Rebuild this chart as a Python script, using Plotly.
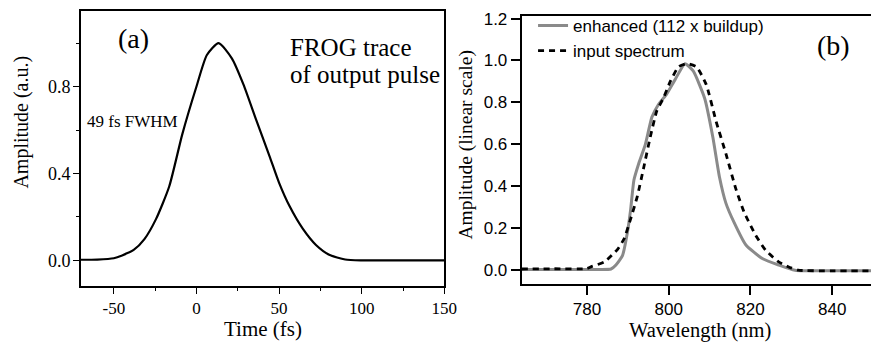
import plotly.graph_objects as go

# Panel (a): FROG trace of output pulse
time_fs = [-70, -60, -50, -45, -38, -31.5, -24.5, -16.5, -8.6, 0, 6.3, 13.4, 21.4, 28.4,
           36.3, 44.3, 50, 56.3, 64.3, 72.3, 80.3, 90, 100, 125, 150]
amp_a = [0.003, 0.004, 0.01, 0.023, 0.048, 0.098, 0.19, 0.34, 0.58, 0.80, 0.945, 1.0, 0.93, 0.81,
         0.643, 0.478, 0.357, 0.25, 0.146, 0.071, 0.026, 0.004, 0.0, 0.0, 0.0]

# Panel (b): spectra
wl_enh = [764, 775, 782, 785.9, 787.1, 788.7, 789.9, 790.7, 791.5, 792.7, 794.3, 795.9, 797.5,
          799.5, 801.6, 804.0, 806.0, 808.8, 810.8, 812.4, 814.0, 816.0, 818.9, 822.9,
          826.9, 830.9, 840, 850]
amp_enh = [0.004, 0.004, 0.004, 0.006, 0.025, 0.07, 0.18, 0.29, 0.43, 0.51, 0.60, 0.73, 0.79,
           0.84, 0.91, 0.985, 0.95, 0.82, 0.635, 0.447, 0.32, 0.228, 0.12, 0.056,
           0.025, 0.0, -0.003, -0.003]

wl_in = [764, 772, 780, 781.1, 784.3, 787.5, 789.1, 790.7, 792.3, 793.9, 795.5, 797.1, 798.7,
         800.4, 802.4, 804.4, 806.8, 809.2, 811.6, 814.0, 816.5, 818.5, 821.3, 823.7,
         826.9, 830.1, 831.7, 840, 850]
amp_in = [0.006, 0.007, 0.008, 0.017, 0.04, 0.10, 0.15, 0.245, 0.35, 0.49, 0.635, 0.76, 0.82,
          0.90, 0.97, 0.985, 0.97, 0.885, 0.71, 0.556, 0.384, 0.275, 0.166, 0.096,
          0.04, 0.01, 0.0, -0.003, -0.003]

a_xticks = [-50, 0, 50, 100, 150]
a_xlabels = ["-50", "0", "50", "100", "150"]
a_yticks = [0.0, 0.4, 0.8]
a_ylabels = ["0.0", "0.4", "0.8"]
b_xticks = [780, 800, 820, 840]
b_yticks = [0.0, 0.2, 0.4, 0.6, 0.8, 1.0, 1.2]
b_ylabels = ["0.0", "0.2", "0.4", "0.6", "0.8", "1.0", "1.2"]

W, H = 884, 345
serif = "Liberation Serif"
sans = "Liberation Sans"

fig = go.Figure()
fig.add_trace(go.Scatter(x=time_fs, y=amp_a, mode="lines",
                         line=dict(color="black", width=2.2, shape="spline", smoothing=0.6),
                         showlegend=False, xaxis="x", yaxis="y"))
fig.add_trace(go.Scatter(x=wl_enh, y=amp_enh, mode="lines", name="enhanced (112 x buildup)",
                         line=dict(color="#8a8a8a", width=3, shape="spline", smoothing=0.5),
                         xaxis="x2", yaxis="y2"))
fig.add_trace(go.Scatter(x=wl_in, y=amp_in, mode="lines", name="input spectrum",
                         line=dict(color="black", width=2.8, dash="6px,5px", shape="spline", smoothing=0.5),
                         xaxis="x2", yaxis="y2"))

def px(x):
    return x / W

def py(y):
    return 1 - y / H

fig.update_layout(
    width=W, height=H, margin=dict(l=0, r=0, t=0, b=0),
    paper_bgcolor="white", plot_bgcolor="white",
    xaxis=dict(domain=[px(82), px(451)], range=[-70, 150], tickvals=a_xticks, ticktext=a_xlabels,
               ticks="outside", ticklen=6, tickwidth=1.3, tickcolor="black",
               minor=dict(ticks="outside", ticklen=3, dtick=25, tick0=0, tickcolor="black", tickwidth=1.2),
               showline=True, linecolor="black", linewidth=1.6, mirror=True,
               showgrid=False, zeroline=False,
               tickfont=dict(family=serif, size=17, color="black"), anchor="y"),
    yaxis=dict(domain=[py(285), py(5)], range=[-0.118, 1.148], tickvals=a_yticks, ticktext=a_ylabels,
               ticks="outside", ticklen=6, tickwidth=1.3, tickcolor="black",
               minor=dict(ticks="outside", ticklen=3, dtick=0.2, tick0=0, tickcolor="black", tickwidth=1.2),
               showline=True, linecolor="black", linewidth=1.6, mirror=True,
               showgrid=False, zeroline=False, ticklabelstandoff=-1,
               tickfont=dict(family=serif, size=18, color="black"), anchor="x"),
    xaxis2=dict(domain=[px(529.3), 1.0], range=[764, 849.5], tickvals=b_xticks,
                ticks="outside", ticklen=9, tickwidth=2, tickcolor="black",
                showline=True, linecolor="black", linewidth=1.6, mirror=True,
                showgrid=False, zeroline=False,
                tickfont=dict(family=sans, size=17, color="black"), anchor="y2"),
    yaxis2=dict(domain=[py(283), py(10)], range=[-0.066, 1.213], tickvals=b_yticks, ticktext=b_ylabels,
                ticks="outside", ticklen=9, tickwidth=2, tickcolor="black",
                showline=True, linecolor="black", linewidth=1.6, mirror=False,
                showgrid=False, zeroline=False,
                tickfont=dict(family=sans, size=17, color="black"), anchor="x2"),
    legend=dict(x=px(541), y=py(2), xanchor="left", yanchor="top",
                bgcolor="rgba(0,0,0,0)", font=dict(family=sans, size=17, color="black"),
                tracegroupgap=0, itemwidth=30),
    showlegend=True,
)

ann = [
    dict(text="(a)", x=px(135), y=py(33), font=dict(family=serif, size=28)),
    dict(text="FROG trace", x=px(292), y=py(42), xanchor="left", font=dict(family=serif, size=25)),
    dict(text="of output pulse", x=px(292), y=py(70), xanchor="left", font=dict(family=serif, size=25)),
    dict(text="49 fs FWHM", x=px(86), y=py(118), xanchor="left", font=dict(family=serif, size=17)),
    dict(text="Amplitude (a.u.)", x=px(22), y=py(118), textangle=-90, font=dict(family=serif, size=20)),
    dict(text="Time (fs)", x=px(267), y=py(329), font=dict(family=serif, size=21)),
    dict(text="(b)", x=px(845.5), y=py(40), font=dict(family=serif, size=28)),
    dict(text="Amplitude (linear scale)", x=px(472), y=py(141), textangle=-90, font=dict(family=serif, size=19.5)),
    dict(text="Wavelength (nm)", x=px(710), y=py(330), font=dict(family=serif, size=20.5)),
]
for a in ann:
    a.setdefault("xanchor", "center")
    a.update(xref="paper", yref="paper", showarrow=False, yanchor="middle")
    a["font"]["color"] = "black"
    fig.add_annotation(**a)

fig.write_html("out.html")
